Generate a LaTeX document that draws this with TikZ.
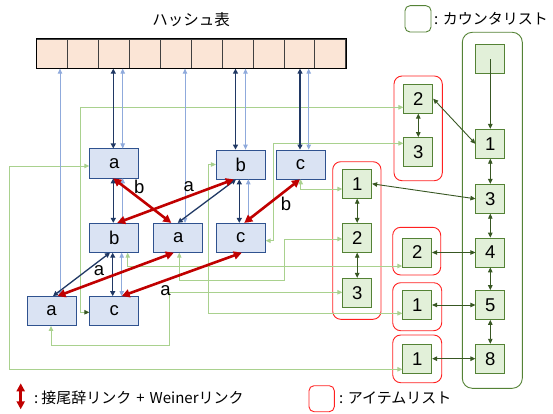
\documentclass[tikz,border=0pt]{standalone}
\usepackage{fontspec}
\setmainfont{Liberation Sans}
\newfontfamily\jp{Noto Sans CJK JP}
\usetikzlibrary{arrows.meta,calc}
\definecolor{tfill}{HTML}{DAE3F3}
\definecolor{tborder}{HTML}{2F528F}
\definecolor{dkblue}{HTML}{203864}
\definecolor{ltblue}{HTML}{8FAADC}
\definecolor{redc}{HTML}{C00000}
\definecolor{gfill}{HTML}{E2F0D9}
\definecolor{gborder}{HTML}{548235}
\definecolor{dkgreen}{HTML}{385723}
\definecolor{ltgreen}{HTML}{A9D18E}
\definecolor{hfill}{HTML}{FBE5D6}
\definecolor{listred}{HTML}{FF2020}
\tikzset{
  tnode/.style={draw=tborder, fill=tfill, minimum width=49pt, minimum height=29pt, inner sep=0pt, line width=0.8pt, font=\fontsize{18.5}{18.5}\selectfont},
  cnode/.style={draw=gborder, fill=gfill, minimum width=29pt, minimum height=29pt, inner sep=0pt, line width=0.8pt, font=\fontsize{18.5}{18.5}\selectfont},
  hcell/.style={draw=black!75, fill=hfill, minimum width=30.9pt, minimum height=29pt, inner sep=0pt, line width=0.7pt},
  dk/.style={draw=dkblue, line width=1.3pt, {Triangle[length=5pt,width=5pt]}-{Triangle[length=5pt,width=5pt]}},
  lb/.style={draw=ltblue, line width=0.9pt, {Triangle[length=5pt,width=4.5pt]}-{Triangle[length=5pt,width=4.5pt]}},
  rd/.style={draw=redc, line width=2.6pt, {Triangle[length=8pt,width=8pt]}-{Triangle[length=8pt,width=8pt]}},
  gl/.style={draw=ltgreen, line width=1pt, {Triangle[length=5pt,width=4.5pt]}-{Triangle[length=5pt,width=4.5pt]}},
  dg/.style={draw=dkgreen, line width=0.9pt, {Triangle[length=5pt,width=4.5pt]}-{Triangle[length=5pt,width=4.5pt]}},
  ilist/.style={draw=listred, line width=0.9pt, rounded corners=8pt},
  clist/.style={draw=gborder, line width=0.9pt, rounded corners=10pt},
  elabel/.style={anchor=base, inner sep=0pt, font=\fontsize{18.5}{18.5}\selectfont},
  legend/.style={anchor=west, inner sep=0pt, font=\jp\fontsize{15}{15}\selectfont}
}
\begin{document}
\begin{tikzpicture}[x=1pt,y=-1pt]
\useasboundingbox (0,0) rectangle (553,414);

% title and hash table
\node[font=\jp\fontsize{15.5}{15.5}\selectfont, inner sep=0pt] (title) at (191,19.5) {ハッシュ表};
\foreach \i in {0,...,9} {
  \node[hcell] (h\i) at ({36.7+30.9*\i+15.45},53.8) {};
}
\draw[black, line width=1pt] (h0.north west) rectangle (h9.south east);

% frames
\draw[clist] (462.3,32.3) rectangle (522.3,388.3);
\draw[ilist] (394,76) rectangle (442.3,180.7);
\draw[ilist] (332.7,161.7) rectangle (381,319.3);
\draw[ilist] (392.7,227.3) rectangle (440.7,275);
\draw[ilist] (392.7,282.7) rectangle (441.7,330.7);
\draw[ilist] (392.7,335) rectangle (441.7,382.7);

% tree nodes
\node[tnode] (A1) at (114.2,163.4) {a};
\node[tnode] (B1) at (240.8,164.5) {b};
\node[tnode] (C1) at (300.5,164.5) {c};
\node[tnode] (B2) at (114.2,237.8) {b};
\node[tnode] (A2) at (178.3,237.8) {a};
\node[tnode] (C2) at (240.8,237.8) {c};
\node[tnode] (A3) at (51.5,311) {a};
\node[tnode] (C3) at (114.2,311) {c};

% count list nodes
\node[cnode] (cE) at (490.3,59.2) {};
\node[cnode] (c1) at (490.3,143.8) {1};
\node[cnode] (c3) at (490.3,198.8) {3};
\node[cnode] (c4) at (490.3,252.5) {4};
\node[cnode] (c5) at (490.3,305) {5};
\node[cnode] (c8) at (490.3,358.7) {8};

% item list nodes
\node[cnode] (LA2) at (418.3,98.7) {2};
\node[cnode] (LA3) at (418.3,152) {3};
\node[cnode] (LB1) at (357.2,183.8) {1};
\node[cnode] (LB2) at (357.2,237.8) {2};
\node[cnode] (LB3) at (357.2,292.8) {3};
\node[cnode] (LC2) at (417.2,252.5) {2};
\node[cnode] (LD1) at (417.2,305) {1};
\node[cnode] (LE1) at (417.2,358.7) {1};

% green item pointers
\draw[gl] (A1.west |- 0,166) -- (9.3,166) -- (9.3,369.3) -- (LE1.west |- 0,369.3);
\draw[gl] (B1.west) -- (208.7,164.5) -- (208.7,313.3) -- (LD1.west |- 0,313.3);
\draw[gl] (C1.south -| 300.7,0) -- (300.7,189) -- (LB1.west |- 0,189);
\draw[gl] (C2.east |- 0,240.7) -- (273,240.7) -- (273,143.3) -- (LA3.west |- 0,143.3);
\draw[gl] (A2.south -| 179.3,0) -- (179.3,280) -- (284,280) -- (284,239) -- (LB2.west |- 0,239);
\draw[gl] (B2.south -| 127.7,0) -- (127.7,266) -- (LC2.west |- 0,266);
\draw[gl] (A3.south -| 51,0) -- (51,345) -- (169.3,345) -- (169.3,292.3) -- (LB3.west |- 0,292.3);
\draw[gl, {Triangle[length=5pt,width=4.5pt,color=dkgreen]}-{Triangle[length=5pt,width=4.5pt]}] (C3.west |- 0,312.3) -- (80,312.3) -- (80,107.3) -- (LA2.west |- 0,107.3);

% hash links
\draw[lb] (A3.north -| 60,0) -- (h0.south -| 60,0);
\draw[dk] (A1.north -| 113.3,0) -- (h2.south -| 113.3,0);
\draw[lb] (A1.north -| 122.7,0) -- (h2.south -| 122.7,0);
\draw[lb] (A2.north -| 185,0) -- (h4.south -| 185,0);
\draw[dk] (B1.north -| 235.5,0) -- (h6.south -| 235.5,0);
\draw[lb] (B1.north -| 245.5,0) -- (h6.south -| 245.5,0);
\draw[dk] (C1.north -| 300,0) -- (h8.south -| 300,0);
\draw[lb] (C1.north -| 308.7,0) -- (h8.south -| 308.7,0);

% tree edges
\draw[dk] (A1.south -| 113.3,0) -- (B2.north -| 113.3,0);
\draw[lb] (A1.south -| 122.7,0) -- (B2.north -| 122.7,0);
\draw[dk] (B1.south -| 239.3,0) -- (C2.north -| 239.3,0);
\draw[lb] (B1.south -| 248.3,0) -- (C2.north -| 248.3,0);
\draw[dk] (B2.south -| 112.7,0) -- (C3.north -| 112.7,0);
\draw[lb] (B2.south -| 121.7,0) -- (C3.north -| 121.7,0);
\draw[dk] (B1.south -| 236,0) -- (A2.north -| 177.7,0);
\draw[dk] (B2.south -| 110,0) -- (A3.north -| 53,0);

% suffix / Weiner links
\draw[rd] (A1.south -| 113.2,0) -- (A2.north -| 171.3,0);
\draw[rd] (B1.south -| 233.8,0) -- (B2.north -| 117.2,0);
\draw[rd] (C1.south -| 300,0) -- (C2.north -| 244.3,0);
\draw[rd] (A2.south -| 173.8,0) -- (A3.north -| 57.5,0);
\draw[rd] (C2.south -| 241.8,0) -- (C3.north -| 121.7,0);
\node[elabel] (lb1) at (139.3,193.3) {b};
\node[elabel] (la1) at (188.8,191.7) {a};
\node[elabel] (lb2) at (286,210.7) {b};
\node[elabel] (la2) at (99,275.7) {a};
\node[elabel] (la3) at (165.5,295) {a};

% count list links
\draw[dkgreen, line width=0.9pt, -{Triangle[length=5pt,width=4.5pt]}] (cE.center) -- (c1.north);
\draw[dg] (c1) -- (c3);
\draw[dg] (c3) -- (c4);
\draw[dg] (c4) -- (c5);
\draw[dg] (c5) -- (c8);
\draw[dg] (LA2) -- (LA3);
\draw[dg] (LB1) -- (LB2);
\draw[dg] (LB2) -- (LB3);
\draw[dg] (LA2.east) -- (c1.west);
\draw[dg] (LB1.east) -- (c3.west);
\draw[dg] (LC2.east) -- (c4.west);
\draw[dg] (LD1.east) -- (c5.west);
\draw[dg] (LE1.east) -- (c8.west);

% legends
\draw[clist, rounded corners=5pt] (405,5.7) rectangle (431,32);
\node[legend] (lg1) at (434,19) {: カウンタリスト};
\draw[ilist, rounded corners=5pt] (309,385.7) rectangle (334.3,411.7);
\node[legend] (lg2) at (339,397.7) {: アイテムリスト};
\coordinate (rl1) at (20.7,383.3);
\coordinate (rl2) at (20.7,409.3);
\draw[rd] (rl1) -- (rl2);
\node[legend] (lg3) at (34,397.5) {:\hspace{3pt}接尾辞リンク\hspace{5pt}+\hspace{5pt}Weinerリンク};
\end{tikzpicture}
\end{document}
